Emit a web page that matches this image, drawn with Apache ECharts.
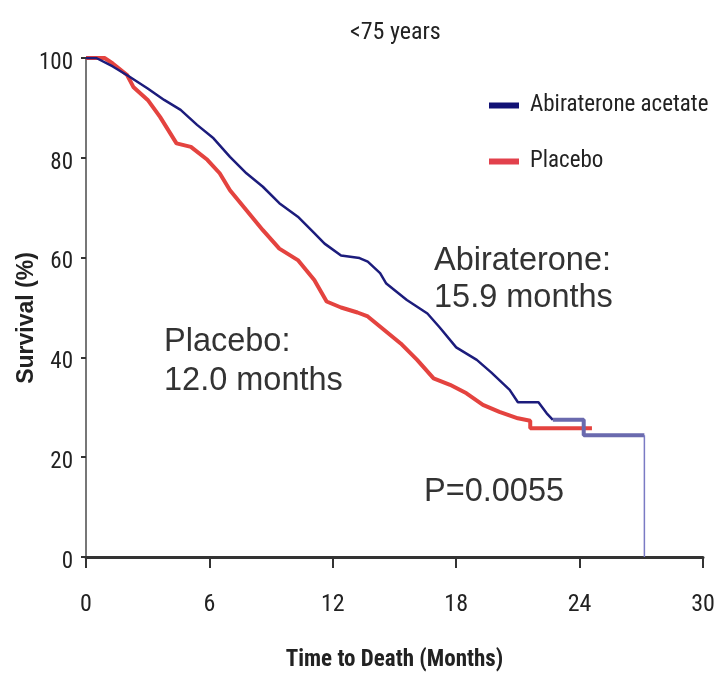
<!DOCTYPE html>
<html>
<head>
<meta charset="utf-8">
<script src="https://cdn.jsdelivr.net/npm/echarts@6/dist/echarts.min.js"></script>
<style>html,body{margin:0;padding:0;background:#fff}#c{width:718px;height:679px}</style>
</head>
<body>
<div id="c"></div>
<script>
// ---- data ----
const chartTitle = '<75 years';
const seriesNames = ['Abiraterone acetate', 'Placebo'];
const xTicks = [0, 6, 12, 18, 24, 30];
const yTicks = [0, 20, 40, 60, 80, 100];

const abiMonths = [0, 0.5, 1.3, 2.1, 3.0, 3.8, 4.6, 5.4, 6.2, 7.0, 7.8, 8.6, 9.4, 10.3, 11.1, 11.6, 12.4, 13.3, 13.7, 14.3, 14.6, 15.6, 16.6, 17.2, 18.0, 19.0, 19.7, 20.6, 21.0, 22.0, 22.4, 22.7];
const abiSurv   = [100, 100, 98.3, 96.3, 93.9, 91.6, 89.6, 86.6, 83.9, 80.2, 76.9, 74.2, 70.9, 68.2, 64.9, 62.8, 60.4, 59.9, 59.2, 56.9, 54.8, 51.5, 48.8, 46.0, 42.0, 39.5, 37.0, 33.5, 31.0, 31.0, 28.8, 27.5];
const abiTailMonths = [22.7, 24.2, 24.2, 27.15];
const abiTailSurv   = [27.5, 27.5, 24.4, 24.4];
const abiDropMonths = [27.15, 27.15];
const abiDropSurv   = [24.4, 0];

const plaMonths = [0, 0.9, 1.3, 2.0, 2.3, 3.0, 3.6, 4.4, 5.1, 5.9, 6.5, 7.0, 7.8, 8.6, 9.4, 10.3, 11.1, 11.7, 12.4, 13.2, 13.7, 14.5, 15.3, 16.1, 16.9, 17.7, 18.5, 19.3, 20.1, 21.0, 21.6, 21.6, 24.6];
const plaSurv   = [100, 100, 98.9, 96.6, 94.2, 91.6, 88.2, 82.9, 82.2, 79.6, 76.9, 73.5, 69.5, 65.5, 61.8, 59.5, 55.5, 51.2, 50.0, 49.0, 48.2, 45.5, 42.8, 39.5, 35.8, 34.5, 32.8, 30.5, 29.1, 27.8, 27.3, 25.8, 25.8];

const noteAbi = 'Abiraterone:\n15.9 months';
const notePla = 'Placebo:\n12.0 months';
const noteP = 'P=0.0055';
const xName = 'Time to Death (Months)';
const yName = 'Survival (%)';

const pairs = (xs, ys) => xs.map((x, i) => [x, ys[i]]);
const NARROW = '"Liberation Sans Narrow", "Roboto Condensed", "DejaVu Sans Condensed", "Liberation Sans", sans-serif';
const SANS = '"Liberation Sans", Arial, sans-serif';

const chart = echarts.init(document.getElementById('c'), null, {renderer: 'canvas'});
chart.setOption({
  backgroundColor: '#fff',
  animation: false,
  title: {
    text: chartTitle, left: 345, top: 16,
    textStyle: {fontFamily: NARROW, fontSize: 24, fontWeight: 'normal', color: '#222'}
  },
  legend: {
    data: [
      {name: seriesNames[0], itemStyle: {color: '#121275'}},
      {name: seriesNames[1], itemStyle: {color: '#e2414c'}}
    ],
    orient: 'vertical', left: 484, top: 89,
    icon: 'rect', itemWidth: 30, itemHeight: 6, itemGap: 33,
    textStyle: {fontFamily: NARROW, fontSize: 23, color: '#222', padding: [0, 0, 0, 6]}
  },
  grid: {left: 86, right: 15, top: 58, bottom: 122, containLabel: false, outerBoundsMode: 'none'},
  xAxis: {
    type: 'value', min: xTicks[0], max: xTicks[xTicks.length - 1], interval: 6,
    name: xName, nameLocation: 'middle', nameGap: 92, nameMoveOverlap: false,
    nameTextStyle: {fontFamily: NARROW, fontSize: 23, fontWeight: 'bold', color: '#222'},
    axisLine: {show: true, lineStyle: {color: '#333', width: 3}},
    axisTick: {show: true, length: 11, lineStyle: {color: '#333', width: 2}},
    axisLabel: {fontFamily: NARROW, fontSize: 24, color: '#222', margin: 36},
    splitLine: {show: false}
  },
  yAxis: {
    type: 'value', min: yTicks[0], max: yTicks[yTicks.length - 1], interval: 20,
    name: yName, nameLocation: 'middle', nameGap: 48, nameRotate: 90, nameMoveOverlap: false,
    nameTextStyle: {fontFamily: SANS, fontSize: 23, fontWeight: 'bold', color: '#222', padding: [0, 21, 0, 0]},
    axisLine: {show: true, lineStyle: {color: '#777', width: 2}},
    axisTick: {show: true, length: 5, lineStyle: {color: '#333', width: 2}},
    axisLabel: {fontFamily: NARROW, fontSize: 23, color: '#222', margin: 13, verticalAlign: 'top', lineHeight: 10},
    splitLine: {show: false}
  },
  series: [
    {name: seriesNames[1], type: 'line', data: pairs(plaMonths, plaSurv), showSymbol: false,
     lineStyle: {color: '#e4433f', width: 4}, z: 2},
    {name: seriesNames[0], type: 'line', data: pairs(abiMonths, abiSurv), showSymbol: false,
     lineStyle: {color: '#1c1c7c', width: 2.5}, z: 3},
    {name: 'abiTail', type: 'line', data: pairs(abiTailMonths, abiTailSurv), showSymbol: false,
     lineStyle: {color: '#6a6aae', width: 4}, z: 3},
    {name: 'abiDrop', type: 'line', data: pairs(abiDropMonths, abiDropSurv), showSymbol: false,
     lineStyle: {color: '#7a7ac4', width: 1.5}, z: 3}
  ],
  graphic: [
    {type: 'text', left: 434, top: 243, style: {text: noteAbi, font: '32.5px ' + SANS, fill: '#333', lineHeight: 37}},
    {type: 'text', left: 164, top: 323, style: {text: notePla, font: '32.5px ' + SANS, fill: '#333', lineHeight: 39}},
    {type: 'text', left: 424, top: 474, style: {text: noteP, font: '32.5px ' + SANS, fill: '#333', lineHeight: 36}}
  ]
});
</script>
</body>
</html>
